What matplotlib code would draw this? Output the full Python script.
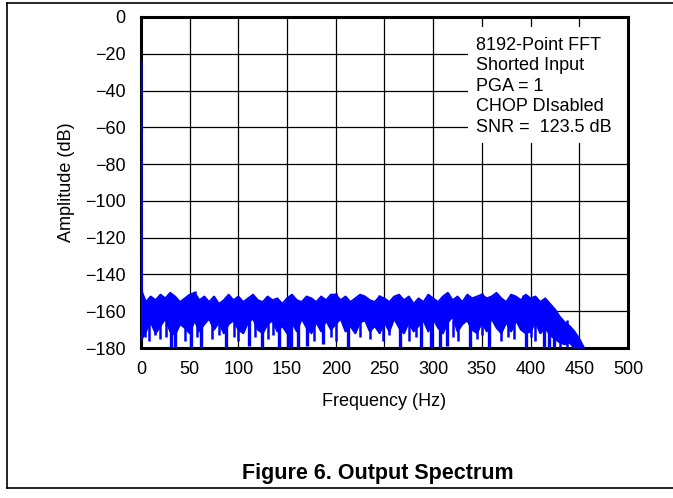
import numpy as np
import matplotlib
matplotlib.use("Agg")
import matplotlib.pyplot as plt
from matplotlib.lines import Line2D
from matplotlib.patches import Rectangle

plt.rcParams["font.family"] = ["Liberation Sans", "DejaVu Sans"]

# noise floor envelope, read every 5 Hz (dB)
env_freq = np.arange(0, 460, 5)
env_top = [-148, -155, -152, -154, -151, -153, -150, -152, -155, -153,
           -151, -150, -154, -152, -155, -152, -156, -154, -151, -154,
           -152, -155, -153, -151, -154, -155, -152, -154, -153, -156,
           -153, -151, -154, -155, -152, -153, -155, -152, -154, -151,
           -151, -154, -152, -155, -153, -151, -152, -154, -155, -152,
           -153, -155, -152, -151, -154, -152, -156, -153, -155, -151,
           -153, -155, -152, -150, -154, -152, -155, -151, -153, -152,
           -151, -153, -152, -150, -153, -155, -151, -152, -154, -151,
           -153, -152, -155, -153, -156, -159, -163, -166, -168, -171,
           -175, -180]
env_bottom = [-176, -171, -166, -172, -168, -164, -171, -173, -167, -169,
              -172, -165, -171, -167, -164, -170, -166, -172, -167, -165,
              -170, -172, -166, -164, -170, -172, -167, -165, -171, -168,
              -172, -166, -171, -164, -169, -172, -166, -171, -165, -170,
              -167, -164, -171, -168, -172, -166, -165, -171, -168, -172,
              -166, -171, -164, -169, -172, -166, -171, -168, -165, -171,
              -164, -169, -172, -166, -163, -171, -167, -165, -170, -172,
              -166, -171, -164, -169, -172, -166, -171, -165, -170, -172,
              -171, -166, -172, -169, -173, -175, -177, -178, -177, -180,
              -180, -180]

# deep downward spikes (Hz, dB)
spike_freq = [31, 35, 51, 62, 87, 111, 124, 142, 151, 154, 161, 170, 187,
              213, 266, 288, 298, 307, 314, 338, 357, 395, 414, 419, 424]
spike_amp = [-180, -180, -180, -180, -180, -179, -180, -180, -180, -180,
             -180, -179, -178, -180, -180, -180, -180, -180, -179, -180,
             -180, -180, -180, -180, -180]
# smaller dips
dip_freq = [4, 8, 14, 20, 26, 45, 57, 73, 80, 95, 100, 117, 130, 136, 178,
            195, 200, 225, 235, 248, 255, 275, 282, 320, 325, 345, 350, 370,
            377, 383, 400, 405, 430, 437]
dip_amp = [-174, -176, -173, -175, -174, -176, -174, -175, -173, -174, -176,
           -174, -175, -173, -176, -174, -176, -174, -175, -176, -173, -176,
           -174, -174, -176, -175, -173, -176, -174, -175, -174, -176, -180,
           -180]
# upward peaks
peak_freq = [55, 200, 244, 315, 350, 392]
peak_amp = [-149, -150, -151, -150, -150, -151]

# DC bin
dc_freq = [0.0, 0.4, 1.2]
dc_amp = [-176, -24.5, -150]

blue = "#0000FF"

fig = plt.figure(figsize=(6.73, 4.98), dpi=100)
ax = fig.add_axes([0.2095, 0.3012, 0.7236, 0.6647])

ax.fill_between(env_freq, env_bottom, env_top, color=blue, lw=0, zorder=3)
ax.plot(env_freq, env_top, color=blue, lw=1.4, zorder=3)
ax.plot(env_freq, env_bottom, color=blue, lw=1.4, zorder=3)
ax.vlines(spike_freq, -165, spike_amp, color=blue, lw=2.4, zorder=3)
ax.vlines(dip_freq, -165, dip_amp, color=blue, lw=1.8, zorder=3)
ax.vlines(peak_freq, -156, peak_amp, color=blue, lw=1.8, zorder=3)
ax.plot(dc_freq, dc_amp, color=blue, lw=1.3, zorder=3)

ax.set_xlim(0, 500)
ax.set_ylim(-180, 0)
ax.set_xticks(np.arange(0, 501, 50))
ax.set_yticks(np.arange(-180, 1, 20))
ax.set_yticklabels([str(v).replace("-", "\u2212") for v in range(-180, 1, 20)])
ax.tick_params(length=0, labelsize=13, pad=11)
ax.tick_params(axis="x", pad=9)
ax.set_axisbelow(True)
ax.grid(True, color="black", lw=0.9)
for s in ax.spines.values():
    s.set_linewidth(2.2)

ax.set_xlabel("Frequency (Hz)", fontsize=13, labelpad=11)
ax.set_ylabel("Amplitude (dB)", fontsize=13, labelpad=7)

# annotation box (white, no border)
ax.add_patch(Rectangle((0.671, 0.619), 0.329, 0.351, transform=ax.transAxes,
                       facecolor="white", edgecolor="none", zorder=2))
notes = ["8192-Point FFT", "Shorted Input", "PGA = 1", "CHOP DIsabled",
         "SNR =  123.5 dB"]
for i, line in enumerate(notes):
    ax.text(0.688, 0.9003 - i * 0.0619, line, transform=ax.transAxes,
            fontsize=13, va="baseline", ha="left", zorder=4)

fig.text(0.562, 0.05, "Figure 6. Output Spectrum", fontsize=15.5,
         fontweight="bold", ha="center", va="center")

# outer frame
fig.add_artist(Line2D([0.0104, 1.0], [0.994, 0.994], color="black", lw=1.2))
fig.add_artist(Line2D([0.0104, 1.0], [0.0201, 0.0201], color="black", lw=1.2))
fig.add_artist(Line2D([0.0104, 0.0104], [0.0201, 0.994], color="black", lw=1.2))

fig.savefig("out.png", dpi=100)
